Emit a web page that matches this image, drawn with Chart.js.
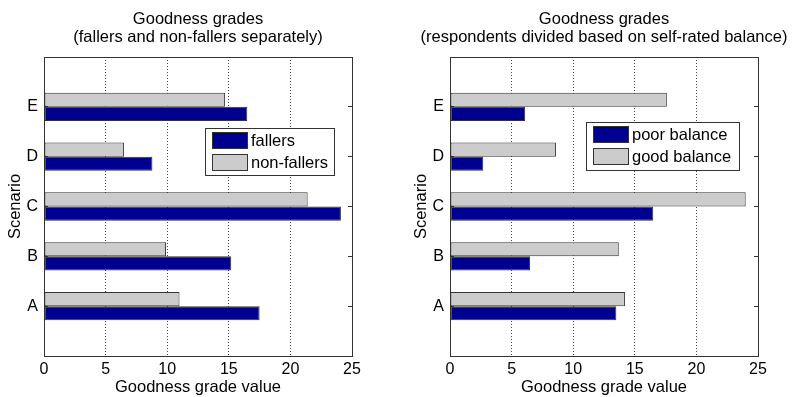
<!DOCTYPE html>
<html>
<head>
<meta charset="utf-8">
<script src="https://cdn.jsdelivr.net/npm/chart.js@4/dist/chart.umd.min.js"></script>
<style>
  html, body { margin: 0; padding: 0; background: #fff; }
  #wrap { position: relative; width: 793px; height: 397px; overflow: hidden; }
  .panel { position: absolute; top: 0; height: 397px; }
  #p1 { left: 0; width: 396px; }
  #p2 { left: 406px; width: 396px; }
  canvas { display: block; }
</style>
</head>
<body>
<div id="wrap">
  <div class="panel" id="p1"><canvas id="c1" width="396" height="397"></canvas></div>
  <div class="panel" id="p2"><canvas id="c2" width="396" height="397"></canvas></div>
</div>
<script>
// Scenarios (y axis, bottom to top) and grade ticks (x axis)
const scenarios = ['A', 'B', 'C', 'D', 'E'];
const gradeTicks = [0, 5, 10, 15, 20, 25];

// Left panel: fallers vs non-fallers
const fallers    = [17.5, 15.2, 24.1, 8.8, 16.5];
const nonFallers = [11.0,  9.9, 21.4, 6.5, 14.7];

// Right panel: self-rated balance groups
const poorBalance = [13.5, 6.5, 16.5, 2.7,  6.1];
const goodBalance = [14.2, 13.7, 24.0, 8.6, 17.6];

const FONT = '"Liberation Sans", Arial, Helvetica, sans-serif';
const BLUE = '#000090';
const GREY = '#CCCCCC';
const EDGE = '#333333';

// Boxed legend drawn inside the plot area
const boxLegend = {
  id: 'boxLegend',
  afterDatasetsDraw(chart, args, opts) {
    const ctx = chart.ctx;
    const items = chart.data.datasets.map(d => ({ label: d.label, fill: d.backgroundColor })).reverse();
    ctx.save();
    ctx.fillStyle = '#fff';
    ctx.fillRect(opts.x, opts.y, opts.w, opts.h);
    ctx.strokeStyle = EDGE;
    ctx.lineWidth = 1;
    ctx.strokeRect(opts.x + 0.5, opts.y + 0.5, opts.w, opts.h);
    ctx.font = '16.5px ' + FONT;
    ctx.textBaseline = 'middle';
    ctx.textAlign = 'left';
    items.forEach((it, i) => {
      const sy = Math.round(opts.y + 4 + i * 22);
      const sx = opts.x + 7;
      ctx.fillStyle = it.fill;
      ctx.fillRect(sx, sy, 35, 16);
      ctx.strokeStyle = EDGE;
      ctx.strokeRect(sx + 0.5, sy + 0.5, 35, 16);
      ctx.fillStyle = '#000';
      ctx.fillText(it.label, opts.x + 46, sy + 9);
    });
    ctx.restore();
  }
};

function toPoints(values) {
  return values.map((v, i) => ({ x: v, y: i + 1 }));
}

function makeChart(canvasId, titleLines, lower, upper, legendBox) {
  const tickFont = { family: FONT, size: 16 };
  const labelFont = { family: FONT, size: 16.5, lineHeight: 1.1 };
  const categoryTicks = s => { s.ticks = scenarios.map((_, i) => ({ value: i + 1 })); };
  return new Chart(document.getElementById(canvasId), {
    type: 'bar',
    data: {
      datasets: [
        { label: upper.label, data: toPoints(upper.values), backgroundColor: GREY,
          borderColor: EDGE, borderWidth: 1, borderSkipped: false },
        { label: lower.label, data: toPoints(lower.values), backgroundColor: BLUE,
          borderColor: EDGE, borderWidth: 1, borderSkipped: false }
      ]
    },
    options: {
      indexAxis: 'y',
      responsive: false,
      animation: false,
      categoryPercentage: 0.57,
      barPercentage: 1,
      layout: { padding: 0 },
      plugins: {
        legend: { display: false },
        tooltip: { enabled: false },
        title: {
          display: true,
          fullSize: true,
          text: titleLines,
          color: '#000',
          font: { family: FONT, size: 16.5, weight: 'normal', lineHeight: 1.1 },
          padding: { top: 10.5, bottom: 10.2 }
        },
        boxLegend: legendBox
      },
      scales: {
        x: {
          type: 'linear', position: 'bottom', min: 0, max: 25,
          afterBuildTicks: s => { s.ticks = gradeTicks.map(v => ({ value: v })); },
          ticks: { color: '#000', font: tickFont, padding: 4 },
          grid: { color: '#444', lineWidth: 1, drawTicks: false },
          border: { color: EDGE, dash: [1, 2] },
          title: { display: true, text: 'Goodness grade value', color: '#000',
                   font: labelFont, padding: { top: 0, bottom: 0 } },
          afterFit: s => { s.height = 41; }
        },
        xTop: {
          type: 'linear', position: 'top', min: 0, max: 25,
          grid: { display: false }, ticks: { display: false },
          border: { color: EDGE },
          afterFit: s => { s.height = 0; }
        },
        y: {
          type: 'linear', position: 'left', min: 0, max: 6, offset: false,
          afterBuildTicks: categoryTicks,
          ticks: { color: '#000', font: tickFont, padding: 10,
                   callback: v => scenarios[v - 1] || '' },
          grid: { offset: false, drawOnChartArea: false, drawTicks: true, tickLength: -4, tickColor: EDGE },
          border: { color: EDGE },
          title: { display: true, text: 'Scenario', color: '#000',
                   font: labelFont, padding: { top: 6, bottom: 0 } },
          afterFit: s => { s.width = 44; }
        },
        yRight: {
          type: 'linear', position: 'right', min: 0, max: 6, offset: false,
          afterBuildTicks: categoryTicks,
          ticks: { display: false },
          grid: { offset: false, drawOnChartArea: false, drawTicks: true, tickLength: -4, tickColor: EDGE },
          border: { color: EDGE },
          afterFit: s => { s.width = 44; }
        }
      }
    },
    plugins: [boxLegend]
  });
}

makeChart('c1',
  ['Goodness grades', '(fallers and non-fallers separately)'],
  { label: 'fallers', values: fallers },
  { label: 'non-fallers', values: nonFallers },
  { x: 205, y: 128, w: 129, h: 47 });

makeChart('c2',
  ['Goodness grades', '(respondents divided based on self-rated balance)'],
  { label: 'poor balance', values: poorBalance },
  { label: 'good balance', values: goodBalance },
  { x: 180, y: 122, w: 153, h: 48 });
</script>
</body>
</html>
